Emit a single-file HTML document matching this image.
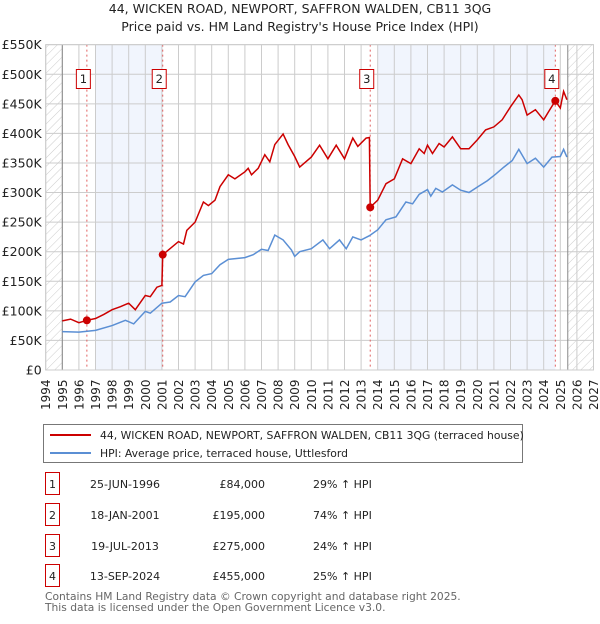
<!DOCTYPE html>
<html><head><meta charset="utf-8"><style>
body{margin:0;background:#fff;font-family:"DejaVu Sans","Liberation Sans",sans-serif;}
svg text{font-family:"DejaVu Sans","Liberation Sans",sans-serif;}
</style></head><body>
<svg id="c" width="600" height="620" xmlns="http://www.w3.org/2000/svg">
<defs><pattern id="hatch" width="6" height="6" patternUnits="userSpaceOnUse" patternTransform="rotate(45)"><line x1="0" y1="0" x2="0" y2="6" stroke="#ccc" stroke-width="1"/></pattern></defs>
<text x="300" y="13" text-anchor="middle" font-size="12.5" fill="#222">44, WICKEN ROAD, NEWPORT, SAFFRON WALDEN, CB11 3QG</text>
<text x="300" y="31" text-anchor="middle" font-size="12.5" fill="#222">Price paid vs. HM Land Registry's House Price Index (HPI)</text>
<g id="plot"></g>
<g>
<rect x="43.5" y="424.5" width="479" height="38" fill="#fff" stroke="#777"/>
<line x1="50" y1="435" x2="91" y2="435" stroke="#cc0000" stroke-width="2"/>
<text x="100" y="439" font-size="10.8" fill="#222">44, WICKEN ROAD, NEWPORT, SAFFRON WALDEN, CB11 3QG (terraced house)</text>
<line x1="50" y1="453" x2="91" y2="453" stroke="#5b8fd4" stroke-width="2"/>
<text x="100" y="457" font-size="10.8" fill="#222">HPI: Average price, terraced house, Uttlesford</text>
</g>
<g id="table" font-size="11" fill="#222"></g>
<text x="45" y="600" font-size="10.7" fill="#666">Contains HM Land Registry data © Crown copyright and database right 2025.</text>
<text x="45" y="611" font-size="10.7" fill="#666">This data is licensed under the Open Government Licence v3.0.</text>
</svg>
<script>
const hpiYears=[1995,1996,1997,1998,1998.8,1999.3,2000,2000.3,2001,2001.5,2002,2002.4,2003,2003.5,2004,2004.5,2005,2006,2006.5,2007,2007.4,2007.8,2008.3,2008.8,2009,2009.3,2010,2010.7,2011.1,2011.7,2012.1,2012.5,2013,2013.5,2014,2014.5,2015.1,2015.7,2016.1,2016.5,2017,2017.2,2017.5,2017.9,2018.5,2019,2019.5,2020.1,2020.6,2021.1,2021.6,2022.1,2022.5,2023,2023.5,2024,2024.5,2025,2025.2,2025.4];
const hpiValues=[65,64,67,75,84,78,99,96,113,115,126,124,149,160,163,178,187,190,195,204,202,228,220,203,192,200,205,220,205,220,205,225,220,227,237,254,259,284,281,297,305,294,307,301,313,304,300,311,320,331,343,354,373,349,358,343,360,361,373,360];
const priceYears=[1995,1995.5,1996,1996.48,1997,1997.5,1998,1998.5,1999,1999.4,2000,2000.3,2000.7,2001.0,2001.05,2001.4,2002,2002.3,2002.5,2003,2003.5,2003.8,2004.2,2004.5,2005,2005.4,2006,2006.2,2006.4,2006.8,2007.2,2007.5,2007.8,2008.3,2008.6,2009,2009.3,2010,2010.5,2011,2011.5,2012,2012.5,2012.8,2013.3,2013.5,2013.55,2014,2014.5,2015,2015.5,2016,2016.5,2016.8,2017,2017.3,2017.7,2018,2018.5,2019,2019.5,2020,2020.5,2021,2021.5,2022,2022.5,2022.7,2023,2023.5,2024,2024.3,2024.7,2025,2025.2,2025.4];
const priceValues=[83,86,80,84,87,94,102,107,113,102,126,124,140,143,195,203,217,213,236,250,284,278,287,310,330,323,335,341,330,341,364,352,381,399,381,361,343,360,380,357,380,357,392,378,392,393,275,287,315,323,357,349,374,366,380,366,383,377,394,374,374,389,406,411,423,445,465,457,431,440,423,437,455,443,471,457];
const saleLabels=["1","2","3","4"];
const saleYears=[1996.48,2001.05,2013.55,2024.7];
const salePrices=[84,195,275,455];
const saleDates=["25-JUN-1996","18-JAN-2001","19-JUL-2013","13-SEP-2024"];
const salePriceText=["£84,000","£195,000","£275,000","£455,000"];
const saleHpiText=["29% ↑ HPI","74% ↑ HPI","24% ↑ HPI","25% ↑ HPI"];
const shadeStart=[1997,2014];
const shadeEnd=[2001.05,2024.7];
const yTicks=[0,50,100,150,200,250,300,350,400,450,500,550];
const yTickLabels=["£0","£50K","£100K","£150K","£200K","£250K","£300K","£350K","£400K","£450K","£500K","£550K"];
const xTicks=[1994,1995,1996,1997,1998,1999,2000,2001,2002,2003,2004,2005,2006,2007,2008,2009,2010,2011,2012,2013,2014,2015,2016,2017,2018,2019,2020,2021,2022,2023,2024,2025,2026,2027];
const dataStart=1995, dataEnd=2025.45;

const NS="http://www.w3.org/2000/svg";
const X0=45.7,PX=16.6,Y0=370,PY=0.5915;
const xs=y=>X0+(y-1994)*PX;
const ys=v=>Y0-v*PY;
const plot=document.getElementById('plot');
function mk(tag,attrs,parent){const e=document.createElementNS(NS,tag);for(const k in attrs)e.setAttribute(k,attrs[k]);(parent||plot).appendChild(e);return e;}
const L=xs(1994),R=xs(2027),T=ys(550),B=ys(0);
let bg=mk('rect',{x:L,y:T,width:R-L,height:B-T,fill:'#fff'});


let h1=mk('rect',{x:L,y:T,width:xs(dataStart)-L,height:B-T,fill:'url(#hatch)'});


let h2=mk('rect',{x:xs(dataEnd),y:T,width:R-xs(dataEnd),height:B-T,fill:'url(#hatch)'});


for(let i=0;i<shadeStart.length;i++){
  let r=mk('rect',{x:xs(shadeStart[i]),y:T,width:xs(shadeEnd[i])-xs(shadeStart[i]),height:B-T,fill:'#eef3fd',opacity:0.8});
  
  
}
xTicks.forEach(t=>{
  let g=mk('line',{x1:xs(t),x2:xs(t),y1:T,y2:B,stroke:'#ccc','stroke-width':1});
  
  
  let tx=mk('text',{x:0,y:0,transform:`translate(${xs(t)+4.5},${B+40}) rotate(-90)`,'font-size':12,fill:'#222'});
  tx.textContent=t;
  
  
});
yTicks.forEach((t,i)=>{
  let g=mk('line',{x1:L,x2:R,y1:ys(t),y2:ys(t),stroke:'#ccc','stroke-width':1});
  
  
  let tx=mk('text',{x:L-4,y:ys(t)+4.5,'text-anchor':'end','font-size':12.5,fill:'#222'});
  tx.textContent=yTickLabels[i];
  
  
});
let v1=mk('line',{x1:xs(dataStart),x2:xs(dataStart),y1:T,y2:B,stroke:'#888'});


let v2=mk('line',{x1:xs(dataEnd),x2:xs(dataEnd),y1:T,y2:B,stroke:'#888'});


saleYears.forEach((y,i)=>{
  let l=mk('line',{x1:xs(y),x2:xs(y),y1:T,y2:B,stroke:'#e06060','stroke-dasharray':'2,3','stroke-width':1});
  
  
});
let hp=mk('path',{d:hpiYears.map((y,i)=>(i?'L':'M')+xs(y).toFixed(1)+','+ys(hpiValues[i]).toFixed(1)).join(''),fill:'none',stroke:'#5b8fd4','stroke-width':1.5});


let pp=mk('path',{d:priceYears.map((y,i)=>(i?'L':'M')+xs(y).toFixed(1)+','+ys(priceValues[i]).toFixed(1)).join(''),fill:'none',stroke:'#cc0000','stroke-width':1.5});


saleYears.forEach((y,i)=>{
  let c=mk('circle',{cx:xs(y),cy:ys(salePrices[i]),r:4,fill:'#cc0000'});
  
  
  let b=mk('rect',{x:xs(y)-10.5,y:69.5,width:14,height:19,fill:'#fff',stroke:'#cc0000'});
  
  
  let t=mk('text',{x:xs(y)-3.5,y:83,'text-anchor':'middle','font-size':11.5,fill:'#222'});
  t.textContent=saleLabels[i];
  
  
});
mk('rect',{x:L,y:T,width:R-L,height:B-T,fill:'none',stroke:'#ccc'});
const tb=document.getElementById('table');
const rowY=[484,515,546,576];
saleLabels.forEach((s,i)=>{
  let r=mk('rect',{x:45.5,y:rowY[i]-11.5,width:14,height:22,fill:'#fff',stroke:'#cc0000'},tb);
  
  
  let a=mk('text',{x:52.5,y:rowY[i]+4,'text-anchor':'middle'},tb);a.textContent=s;
  
  
  let d=mk('text',{x:125,y:rowY[i]+4,'text-anchor':'middle'},tb);d.textContent=saleDates[i];
  
  
  let p=mk('text',{x:265,y:rowY[i]+4,'text-anchor':'end'},tb);p.textContent=salePriceText[i];
  
  
  let h=mk('text',{x:313,y:rowY[i]+4},tb);h.textContent=saleHpiText[i];
  
  
});
</script>
</body></html>
